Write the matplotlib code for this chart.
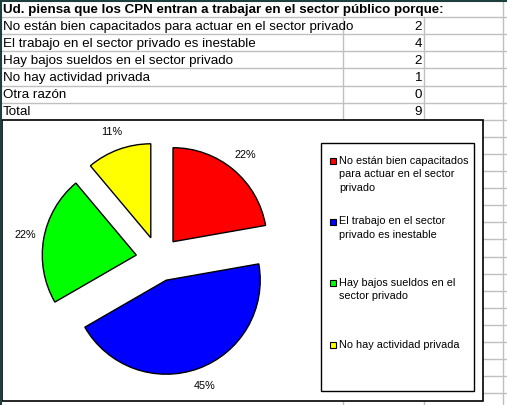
import matplotlib
matplotlib.use('Agg')
import matplotlib.pyplot as plt
from matplotlib.patches import Rectangle

plt.rcParams['font.family'] = ['Liberation Sans', 'DejaVu Sans']

# table data
title = 'Ud. piensa que los CPN entran a trabajar en el sector público porque:'
reasons = ['No están bien capacitados para actuar en el sector privado',
           'El trabajo en el sector privado es inestable',
           'Hay bajos sueldos en el sector privado',
           'No hay actividad privada',
           'Otra razón',
           'Total']
counts = [2, 4, 2, 1, 0, 9]

# pie data (only the first four reasons are charted)
pie_values = [2, 4, 2, 1]
pie_pct = ['22%', '45%', '22%', '11%']
pie_colors = ['#ff0000', '#0000ff', '#00ff00', '#ffff00']
legend_labels = ['No están bien capacitados\npara actuar en el sector\nprivado',
                 'El trabajo en el sector\nprivado es inestable',
                 'Hay bajos sueldos en el\nsector privado',
                 'No hay actividad privada']

W, H = 507, 405
fig = plt.figure(figsize=(W / 100, H / 100), dpi=100)
bg = fig.add_axes([0, 0, 1, 1])
bg.set_xlim(0, W)
bg.set_ylim(H, 0)
bg.axis('off')

# spreadsheet grid
row_h = 17.1
grid = '#c0c0c0'
k = 1
while k * row_h < H:
    bg.plot([0, W], [k * row_h, k * row_h], color=grid, lw=1, zorder=1)
    k += 1
for xc in [343, 424]:
    bg.plot([xc, xc], [row_h, H], color=grid, lw=1, zorder=1)
bg.plot([503, 503], [0, H], color=grid, lw=1, zorder=1)
bg.plot([0, W], [0.5, 0.5], color='#1f3f3f', lw=1.5, zorder=3)
bg.plot([0.5, 0.5], [0, H], color='#1f3f3f', lw=1.5, zorder=3)

fs = 9.6
bg.text(3, row_h / 2 + 1, title, fontsize=9.6, fontweight='bold', va='center', ha='left', zorder=3)
for i, (r, c) in enumerate(zip(reasons, counts)):
    yc = (i + 1.5) * row_h + 1
    bg.text(3, yc, r, fontsize=fs, va='center', ha='left', zorder=3)
    bg.text(422, yc, str(c), fontsize=fs, va='center', ha='right', zorder=3)

# chart area
bg.add_patch(Rectangle((2, 120), 481, 281, facecolor='white', edgecolor='black', lw=1.2, zorder=2))

# legend
lfs = 7.8
bg.add_patch(Rectangle((321, 143), 153, 248, facecolor='white', edgecolor='black', lw=1, zorder=3))
legend_y = [161, 222, 283, 345]
for lab, col, ly in zip(legend_labels, pie_colors, legend_y):
    bg.add_patch(Rectangle((330, ly - 3.5), 6, 6, facecolor=col, edgecolor='black', lw=0.8, zorder=4))
    bg.text(339, ly - 5.5, lab, fontsize=lfs, va='top', ha='left', linespacing=1.45, zorder=4)

# pie
cx, cy, r = 158.5, 259, 94
half = 1.6
pax = fig.add_axes([(cx - half * r) / W, (H - cy - half * r) / H, 2 * half * r / W, 2 * half * r / H])
wedges, texts = pax.pie(pie_values, colors=pie_colors, labels=pie_pct, startangle=90,
                        counterclock=False, explode=[0.24] * len(pie_values),
                        labeldistance=1.2, wedgeprops=dict(edgecolor='black', linewidth=1),
                        textprops=dict(fontsize=lfs))
for t in texts:
    t.set_ha('center')
    t.set_va('center')
pax.set_aspect('auto')
pax.set_xlim(-half, half)
pax.set_ylim(-half, half)
pax.set_axis_off()

fig.savefig('out.png', dpi=100)
